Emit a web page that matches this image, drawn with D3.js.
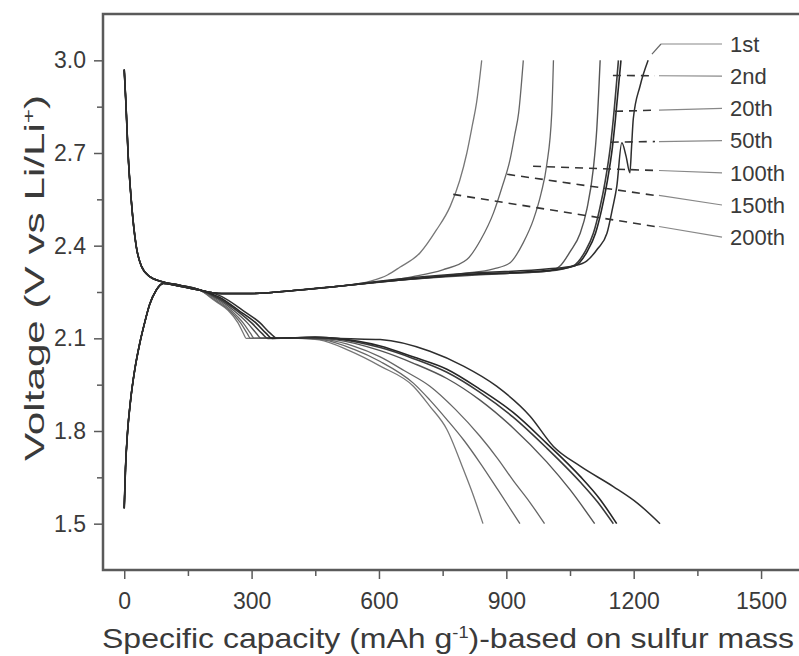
<!DOCTYPE html>
<html>
<head>
<meta charset="utf-8">
<script src="https://cdn.jsdelivr.net/npm/d3@7/dist/d3.min.js"></script>
<style>
  html, body { margin: 0; padding: 0; background: #fff; }
  svg { display: block; }
  text { font-family: "Liberation Sans", Arial, sans-serif; fill: #3a3a3a; }
</style>
</head>
<body>
<svg id="chart" width="799" height="656"></svg>
<script>
// ---------------- DATA ----------------
const cycles = ["1st", "2nd", "20th", "50th", "100th", "150th", "200th"];
const xTicks = [0, 300, 600, 900, 1200, 1500];
const yTicks = [1.5, 1.8, 2.1, 2.4, 2.7, 3.0];

// discharge curves [capacity mAh/g, voltage V]
const discharge1st = [[0,2.97],[4,2.86],[9,2.70],[17,2.54],[28,2.40],[40,2.335],[60,2.30],[90,2.283],[130,2.272],[175,2.258],[230,2.235],[280,2.19],[320,2.15],[345,2.115],[360,2.10],[400,2.101],[450,2.104],[500,2.10],[603,2.096],[720,2.058],[799,2.01],[877,1.945],[956,1.848],[1011,1.75],[1074,1.686],[1152,1.62],[1210,1.565],[1262,1.50]];
const discharge2nd = [[0,2.97],[4,2.86],[9,2.70],[17,2.54],[28,2.40],[40,2.335],[60,2.30],[90,2.283],[130,2.272],[175,2.258],[225,2.232],[270,2.19],[310,2.15],[335,2.115],[348,2.10],[400,2.102],[450,2.103],[500,2.10],[603,2.075],[680,2.04],[760,2.0],[838,1.935],[916,1.86],[995,1.76],[1074,1.653],[1120,1.58],[1160,1.50]];
const discharge20th = [[0,2.97],[4,2.86],[9,2.70],[17,2.54],[28,2.40],[40,2.335],[60,2.30],[90,2.283],[130,2.272],[175,2.258],[222,2.23],[265,2.19],[300,2.15],[325,2.115],[338,2.10],[400,2.102],[450,2.102],[500,2.098],[603,2.07],[680,2.035],[760,1.99],[838,1.925],[916,1.845],[995,1.745],[1074,1.635],[1115,1.57],[1152,1.50]];
const discharge50th = [[0,2.97],[4,2.86],[9,2.70],[17,2.54],[28,2.40],[40,2.335],[60,2.30],[90,2.283],[130,2.272],[175,2.258],[220,2.228],[258,2.19],[290,2.15],[312,2.115],[322,2.10],[380,2.101],[440,2.10],[500,2.095],[603,2.06],[680,2.02],[760,1.97],[838,1.90],[916,1.81],[995,1.70],[1050,1.61],[1108,1.50]];
const discharge100th = [[0,2.97],[4,2.86],[9,2.70],[17,2.54],[28,2.40],[40,2.335],[60,2.30],[90,2.283],[130,2.272],[175,2.258],[218,2.225],[252,2.19],[280,2.15],[298,2.115],[306,2.10],[370,2.101],[430,2.10],[480,2.095],[540,2.075],[603,2.04],[660,1.995],[720,1.945],[780,1.87],[838,1.783],[880,1.71],[916,1.64],[955,1.57],[990,1.50]];
const discharge150th = [[0,2.97],[4,2.86],[9,2.70],[17,2.54],[28,2.40],[40,2.335],[60,2.30],[90,2.283],[130,2.272],[175,2.258],[216,2.222],[248,2.19],[274,2.15],[290,2.115],[297,2.10],[360,2.101],[420,2.10],[470,2.095],[540,2.065],[603,2.025],[681,1.955],[720,1.90],[760,1.837],[800,1.77],[838,1.697],[880,1.61],[932,1.50]];
const discharge200th = [[0,2.97],[4,2.86],[9,2.70],[17,2.54],[28,2.40],[40,2.335],[60,2.30],[90,2.283],[130,2.272],[175,2.258],[215,2.22],[245,2.19],[268,2.15],[281,2.115],[287,2.10],[350,2.101],[410,2.10],[460,2.095],[530,2.06],[603,2.01],[681,1.945],[720,1.88],[760,1.805],[799,1.675],[820,1.60],[845,1.50]];

// charge curves [capacity mAh/g, voltage V]
const charge1st = [[0,1.55],[3,1.68],[8,1.80],[15,1.90],[25,2.00],[36,2.08],[48,2.15],[60,2.21],[75,2.255],[92,2.278],[120,2.272],[170,2.258],[230,2.245],[300,2.245],[400,2.255],[500,2.268],[600,2.285],[800,2.31],[1000,2.325],[1060,2.335],[1089,2.35],[1115,2.39],[1137,2.44],[1150,2.52],[1160,2.59],[1172,2.733],[1182,2.69],[1191,2.636],[1195,2.72],[1199,2.81],[1215,2.917],[1234,3.0]];
const charge2nd = [[0,1.55],[3,1.68],[8,1.80],[15,1.90],[25,2.00],[36,2.08],[48,2.15],[60,2.21],[75,2.255],[92,2.278],[120,2.272],[170,2.258],[230,2.245],[300,2.245],[400,2.255],[500,2.268],[600,2.283],[800,2.306],[1000,2.32],[1062,2.335],[1090,2.38],[1110,2.44],[1125,2.52],[1138,2.61],[1150,2.72],[1157,2.81],[1170,3.0]];
const charge20th = [[0,1.55],[3,1.68],[8,1.80],[15,1.90],[25,2.00],[36,2.08],[48,2.15],[60,2.21],[75,2.255],[92,2.278],[120,2.272],[170,2.258],[230,2.245],[300,2.245],[400,2.255],[500,2.268],[600,2.282],[800,2.305],[1000,2.318],[1058,2.335],[1085,2.38],[1105,2.44],[1120,2.52],[1133,2.61],[1145,2.72],[1152,2.81],[1164,3.0]];
const charge50th = [[0,1.55],[3,1.68],[8,1.80],[15,1.90],[25,2.00],[36,2.08],[48,2.15],[60,2.21],[75,2.255],[92,2.278],[120,2.272],[170,2.258],[230,2.245],[300,2.245],[400,2.255],[500,2.268],[600,2.282],[750,2.298],[900,2.31],[1000,2.318],[1027,2.335],[1050,2.38],[1074,2.44],[1090,2.52],[1105,2.65],[1113,2.776],[1121,3.0]];
const charge100th = [[0,1.55],[3,1.68],[8,1.80],[15,1.90],[25,2.00],[36,2.08],[48,2.15],[60,2.21],[75,2.255],[92,2.278],[120,2.272],[170,2.258],[230,2.245],[300,2.245],[400,2.255],[500,2.268],[600,2.282],[700,2.295],[800,2.31],[870,2.325],[909,2.345],[940,2.41],[964,2.485],[982,2.57],[995,2.66],[1007,2.83],[1011,3.0]];
const charge150th = [[0,1.55],[3,1.68],[8,1.80],[15,1.90],[25,2.00],[36,2.08],[48,2.15],[60,2.21],[75,2.255],[92,2.278],[120,2.272],[170,2.258],[230,2.245],[300,2.245],[400,2.255],[500,2.268],[600,2.283],[680,2.30],[750,2.322],[807,2.355],[840,2.42],[870,2.507],[890,2.59],[909,2.68],[920,2.76],[929,2.83],[940,3.0]];
const charge200th = [[0,1.55],[3,1.68],[8,1.80],[15,1.90],[25,2.00],[36,2.08],[48,2.15],[60,2.21],[75,2.255],[92,2.278],[120,2.272],[170,2.258],[230,2.245],[300,2.245],[400,2.255],[500,2.268],[580,2.285],[620,2.305],[649,2.33],[697,2.377],[735,2.45],[768,2.528],[790,2.61],[807,2.70],[820,2.79],[830,2.864],[842,3.0]];

// leader anchor points on the curves [capacity, voltage]
const leaderAnchors = [[1243,3.02],[1151,2.951],[1156,2.835],[1146,2.735],[963,2.657],[902,2.631],[775,2.566]];

// ---------------- LAYOUT ----------------
const svg = d3.select("#chart");
const L = 103, T = 14, R = 798, B = 570;
const x = d3.scaleLinear().domain([-50, 1587]).range([L, R]);
const y = d3.scaleLinear().domain([1.35, 3.15]).range([B, T]);

const series = [
  {name: "1st",   c: charge1st,   d: discharge1st,   color: "#2e2e2e", w: 1.5},
  {name: "2nd",   c: charge2nd,   d: discharge2nd,   color: "#262626", w: 1.6},
  {name: "20th",  c: charge20th,  d: discharge20th,  color: "#3a3a3a", w: 1.6},
  {name: "50th",  c: charge50th,  d: discharge50th,  color: "#555",    w: 1.4},
  {name: "100th", c: charge100th, d: discharge100th, color: "#666",    w: 1.3},
  {name: "150th", c: charge150th, d: discharge150th, color: "#666",    w: 1.3},
  {name: "200th", c: charge200th, d: discharge200th, color: "#777",    w: 1.3}
];

const line = d3.line().x(d => x(d[0])).y(d => y(d[1])).curve(d3.curveMonotoneX);
svg.append("clipPath").attr("id", "clip").append("rect")
  .attr("x", L).attr("y", T).attr("width", R - L).attr("height", B - T);
const plot = svg.append("g").attr("clip-path", "url(#clip)");

series.slice().reverse().forEach(s => {
  plot.append("path").attr("d", line(s.d)).attr("fill", "none")
    .attr("stroke", s.color).attr("stroke-width", s.w);
  plot.append("path").attr("d", line(s.c)).attr("fill", "none")
    .attr("stroke", s.color).attr("stroke-width", s.w);
});

// axes
const xMinor = d3.range(150, 1600, 300);
const yMinor = [1.65, 1.95, 2.25, 2.55, 2.85];
const axisColor = "#5a5a5a";

const gx = svg.append("g").attr("transform", `translate(0,${B})`)
  .call(d3.axisBottom(x).tickValues(xTicks).tickSize(9).tickPadding(14).tickFormat(d3.format("d")));
const gxm = svg.append("g").attr("transform", `translate(0,${B})`)
  .call(d3.axisBottom(x).tickValues(xMinor).tickSize(6).tickFormat(""));
const gy = svg.append("g").attr("transform", `translate(${L},0)`)
  .call(d3.axisLeft(y).tickValues(yTicks).tickSize(9).tickPadding(8).tickFormat(d3.format(".1f")));
const gym = svg.append("g").attr("transform", `translate(${L},0)`)
  .call(d3.axisLeft(y).tickValues(yMinor).tickSize(6).tickFormat(""));

[gx, gxm, gy, gym].forEach(g => {
  g.select(".domain").remove();
  g.selectAll(".tick line").attr("stroke", axisColor).attr("stroke-width", 1.5);
  g.selectAll(".tick text").style("font-size", "23px").attr("fill", "#3a3a3a")
   .style("font-family", '"Liberation Sans", Arial, sans-serif');
});

// frame
svg.append("rect").attr("x", L).attr("y", T).attr("width", R - L + 10).attr("height", B - T)
  .attr("fill", "none").attr("stroke", axisColor).attr("stroke-width", 2.5);

// axis titles
const xt = svg.append("text").attr("x", 448).attr("y", 648).attr("text-anchor", "middle")
  .attr("textLength", 692).attr("lengthAdjust", "spacingAndGlyphs")
  .style("font-size", "28px");
xt.append("tspan").text("Specific capacity (mAh g");
xt.append("tspan").text("-1").attr("dy", -10).style("font-size", "16px");
xt.append("tspan").text(")-based on sulfur mass").attr("dy", 10);

const yt = svg.append("text").attr("transform", "translate(44,278) rotate(-90)")
  .attr("text-anchor", "middle")
  .attr("textLength", 366).attr("lengthAdjust", "spacingAndGlyphs")
  .style("font-size", "28px");
yt.append("tspan").text("Voltage (V vs Li/Li");
yt.append("tspan").text("+").attr("dy", -10).style("font-size", "16px");
yt.append("tspan").text(")").attr("dy", 10);

// labels with leader lines
const labelX = 730, labelY0 = 44, labelStep = 32.2, kneeX = 655;
cycles.forEach((name, i) => {
  const ly = labelY0 + i * labelStep;
  const a = leaderAnchors[i];
  const ax = x(a[0]), ay = y(a[1]);
  if (i === 0) {
    svg.append("line").attr("x1", ax).attr("y1", ay).attr("x2", 661).attr("y2", ly)
      .attr("stroke", "#666").attr("stroke-width", 1.2);
    svg.append("line").attr("x1", 661).attr("y1", ly).attr("x2", labelX - 8).attr("y2", ly)
      .attr("stroke", "#888").attr("stroke-width", 1.2);
  } else {
    const ky = ay + (ly - ay) * (kneeX - ax) / (labelX - 8 - ax);
    svg.append("line").attr("x1", ax).attr("y1", ay).attr("x2", kneeX).attr("y2", ky)
      .attr("stroke", "#333").attr("stroke-width", 1.6).attr("stroke-dasharray", "8,6");
    svg.append("line").attr("x1", kneeX + 4).attr("y1", ky).attr("x2", labelX - 8).attr("y2", ly)
      .attr("stroke", "#888").attr("stroke-width", 1.2);
  }
  svg.append("text").attr("x", labelX).attr("y", ly).attr("dy", "0.35em")
    .style("font-size", "22px").text(name);
});
</script>
</body>
</html>
